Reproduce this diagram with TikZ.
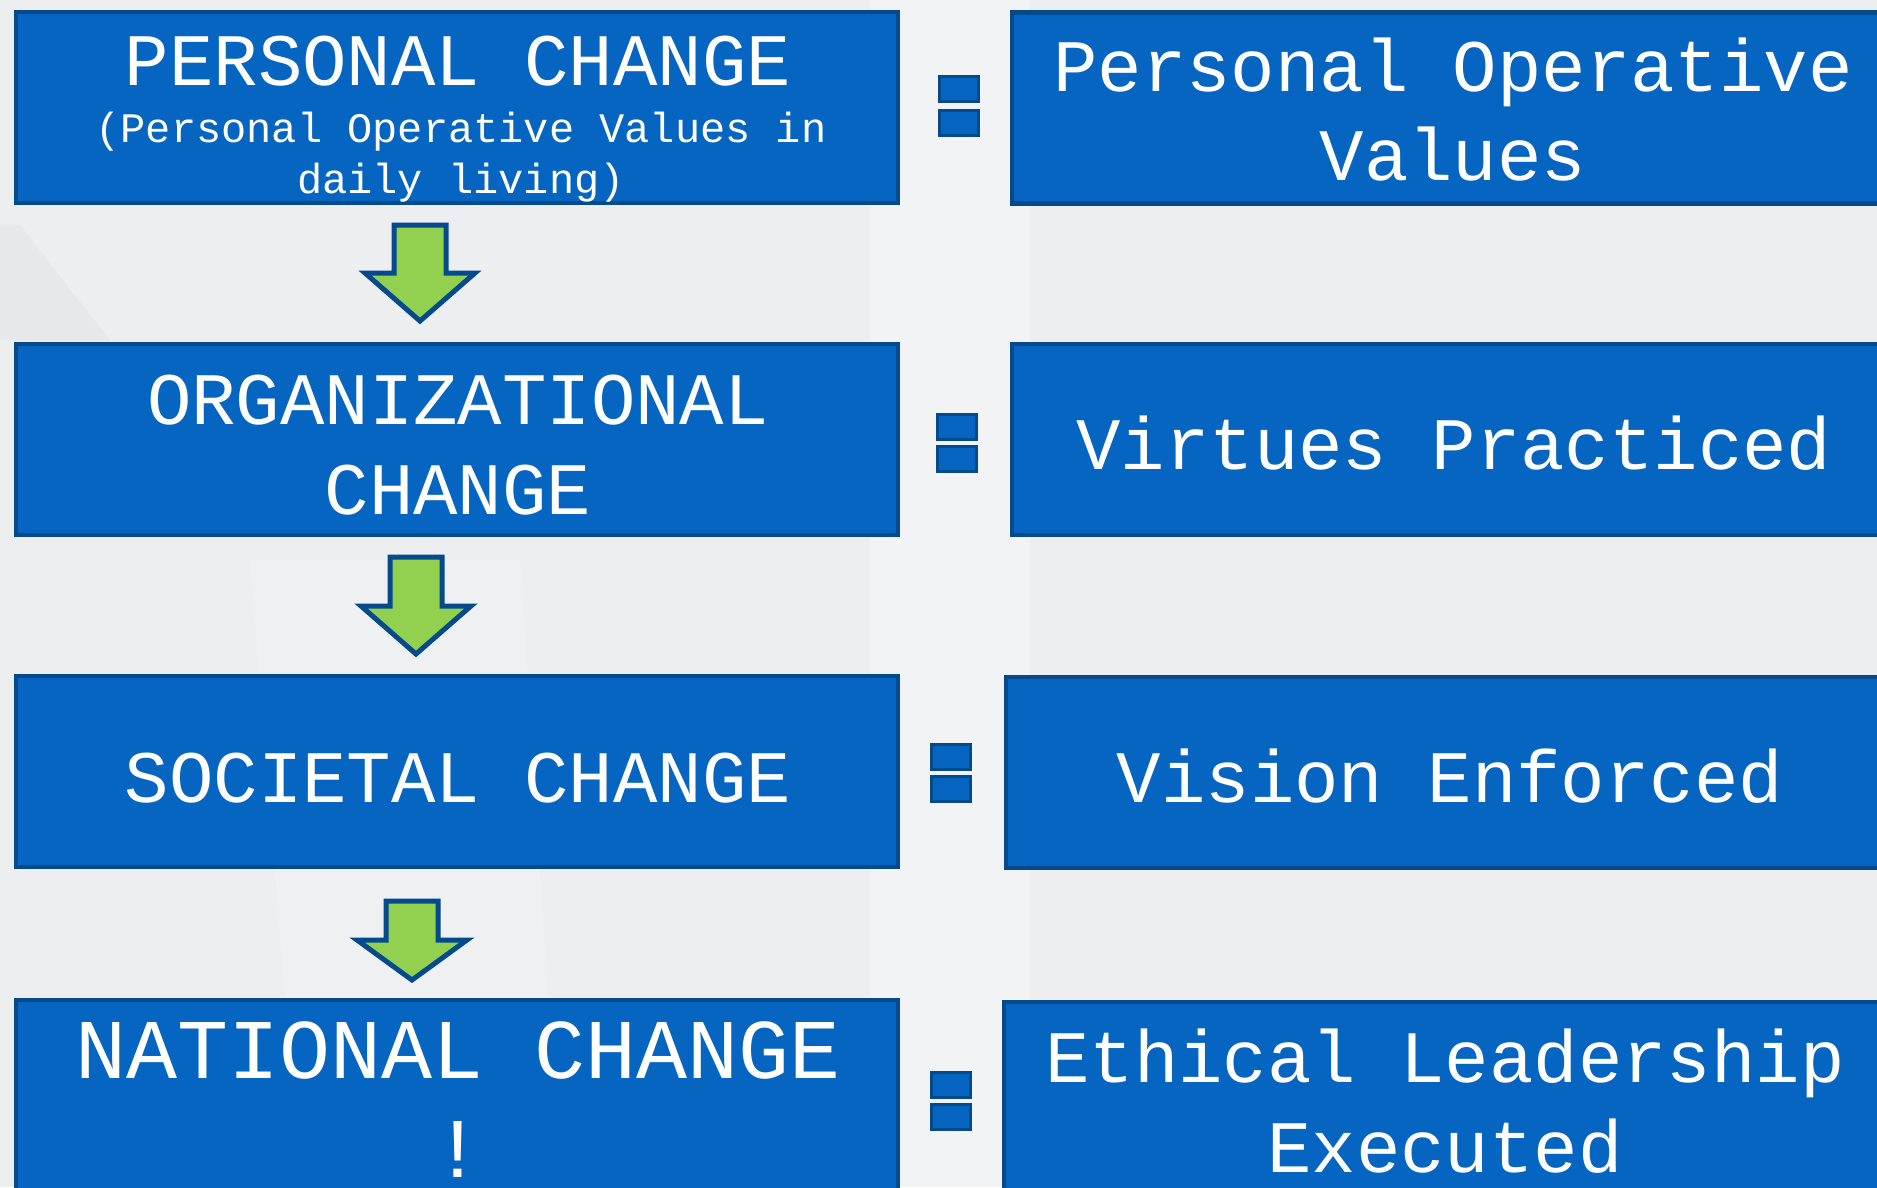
\documentclass[tikz,border=0pt]{standalone}
\usepackage{fontspec}
\setmainfont{Liberation Sans}
\newfontfamily\monofont{Liberation Mono}
\definecolor{boxblue}{HTML}{0565C0}
\definecolor{edgeblue}{HTML}{064A8E}
\definecolor{arrgreen}{HTML}{92D050}
\definecolor{bggray}{HTML}{EDEEF0}
\begin{document}
\begin{tikzpicture}[x=1pt,y=-1pt,
  box/.style={draw=edgeblue,fill=boxblue,line width=4.5pt,inner sep=0pt,minimum height=191pt,minimum width=882pt},
  txt/.style={text=white,font=\monofont\fontsize{74}{90}\selectfont,anchor=base,inner sep=0pt},
  subtxt/.style={txt,font=\monofont\fontsize{42}{52}\selectfont},
  bigtxt/.style={txt,font=\monofont\fontsize{85}{105}\selectfont},
  eqbar/.style={draw=edgeblue,fill=boxblue,line width=3pt,inner sep=0pt,minimum width=39pt,minimum height=25pt},
  blockarrow/.style={draw=edgeblue,fill=arrgreen,line width=5pt,line join=miter}]
\useasboundingbox (0,0) rectangle (1877,1187);
% background
\fill[bggray] (0,0) rectangle (1877,1187);
\fill[white,opacity=0.3] (870,0) -- (1030,0) -- (1030,1187) -- (870,1187) -- cycle;
\fill[white,opacity=0.15] (250,560) -- (520,560) -- (560,1187) -- (300,1187) -- cycle;
\fill[black,opacity=0.025] (0,225) -- (20,225) -- (110,340) -- (0,340) -- cycle;
\begin{scope}
\clip (0,0) rectangle (1877,1187);
% left boxes
\node[box] (pc) at (457,107.5) {};
\node[box] (oc) at (457,439.5) {};
\node[box] (sc) at (457,771.5) {};
\node[box] (nc) at (457,1095.5) {};
% right boxes
\node[box] (pov) at (1453,108) {};
\node[box] (vp) at (1453,439.5) {};
\node[box,minimum width=888pt] (ve) at (1450,772.5) {};
\node[box,minimum width=890pt] (ele) at (1449,1097.5) {};
% texts
\node[txt] (pct) at (458,85) {PERSONAL CHANGE};
\node[subtxt] (pcs1) at (461,142) {(Personal Operative Values in};
\node[subtxt] (pcs2) at (461,193) {daily living)};
\node[txt] (pov1) at (1453,91) {Personal Operative};
\node[txt] (pov2) at (1453,180) {Values};
\node[txt] (oc1) at (458,424) {ORGANIZATIONAL};
\node[txt] (oc2) at (458,514) {CHANGE};
\node[txt] (vpt) at (1454,469) {Virtues Practiced};
\node[txt] (sct) at (458,802) {SOCIETAL CHANGE};
\node[txt] (vet) at (1450,802) {Vision Enforced};
\node[bigtxt] (nc1) at (458,1078) {NATIONAL CHANGE};
\node[bigtxt] (nc2) at (458,1177) {!};
\node[txt] (ele1) at (1445,1082) {Ethical Leadership};
\node[txt] (ele2) at (1445,1172) {Executed};
% equal signs
\node[eqbar] (e1a) at (959,89) {};
\node[eqbar] (e1b) at (959,123) {};
\node[eqbar] (e2a) at (957,427) {};
\node[eqbar] (e2b) at (957,459) {};
\node[eqbar] (e3a) at (951,756.5) {};
\node[eqbar] (e3b) at (951,788.5) {};
\node[eqbar] (e4a) at (951,1085) {};
\node[eqbar] (e4b) at (951,1117) {};
% block arrows
\coordinate (a1) at (420,225);
\coordinate (a2) at (416,557);
\coordinate (a3) at (412,901);
\draw[blockarrow,shift={(a1)}] (-26,0) -- (26,0) -- (26,48) -- (55,48) -- (0,96) -- (-55,48) -- (-26,48) -- cycle;
\draw[blockarrow,shift={(a2)}] (-26,0) -- (26,0) -- (26,49) -- (55,49) -- (0,97) -- (-55,49) -- (-26,49) -- cycle;
\draw[blockarrow,shift={(a3)}] (-26,0) -- (26,0) -- (26,39) -- (55,39) -- (0,79) -- (-55,39) -- (-26,39) -- cycle;
\end{scope}
\end{tikzpicture}
\end{document}
